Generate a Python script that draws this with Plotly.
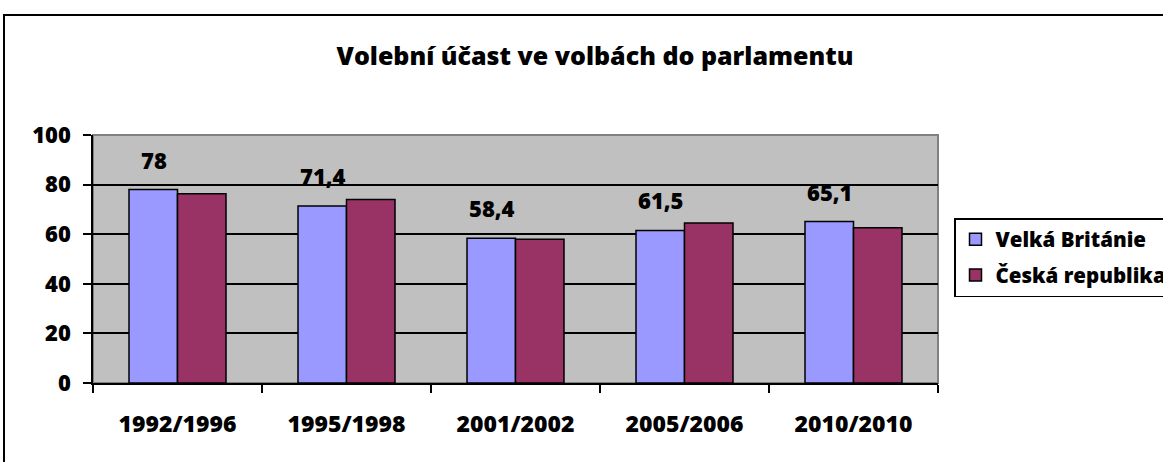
import plotly.graph_objects as go

categories = ["1992/1996", "1995/1998", "2001/2002", "2005/2006", "2010/2010"]
uk_values = [78, 71.4, 58.4, 61.5, 65.1]
cz_values = [76.3, 74.0, 58.0, 64.5, 62.6]
series_names = ["Velká Británie", "Česká republika"]
y_ticks = [0, 20, 40, 60, 80, 100]
title_text = "Volební účast ve volbách do parlamentu"

FONT = "Open Sans"
WT = 800
W, H = 1163, 462
L, R, T, B = 93, 225, 135, 79
pw = W - L - R
ph = H - T - B

fig = go.Figure()
fig.add_trace(go.Bar(x=categories, y=uk_values, name=series_names[0],
                     marker=dict(color="#9999FF", line=dict(color="black", width=1.5)),
                     legendgroup="a"))
fig.add_trace(go.Bar(x=categories, y=cz_values, name=series_names[1],
                     marker=dict(color="#993366", line=dict(color="black", width=1.5)),
                     legendgroup="b"))

for c, v in zip(categories, uk_values):
    fig.add_annotation(x=c, y=v, xref="x", yref="y", text=f"{v:g}".replace(".", ","),
                       showarrow=False, xshift=-24, yshift=30,
                       font=dict(family=FONT, size=22, color="black", weight=WT))

def px(xp):
    return (xp - L) / pw
def py(yp):
    return (H - B - yp) / ph

# outer chart border
fig.add_shape(type="rect", xref="paper", yref="paper",
              x0=px(4), x1=px(1175), y0=py(15), y1=py(475),
              line=dict(color="black", width=2), layer="below")
# plot area border
fig.add_shape(type="rect", xref="paper", yref="paper", x0=0, x1=1, y0=0, y1=1,
              line=dict(color="#808080", width=2), layer="below")

fig.update_layout(
    width=W, height=H,
    margin=dict(l=L, r=R, t=T, b=B, autoexpand=False),
    paper_bgcolor="white", plot_bgcolor="#C0C0C0",
    title=dict(text=title_text, x=595 / W, xanchor="center", y=1 - 56 / H, yanchor="middle",
               font=dict(family=FONT, size=25, color="black", weight=WT)),
    barmode="group", bargap=0.426, bargroupgap=0,
    showlegend=True,
    legend=dict(x=px(954), xanchor="left", y=py(218), yanchor="top",
                bordercolor="black", borderwidth=1.5, bgcolor="white",
                font=dict(family=FONT, size=20.5, color="black", weight=WT),
                traceorder="grouped", tracegroupgap=6, itemwidth=30),
    font=dict(family=FONT, color="black"),
)
fig.update_xaxes(showline=True, linecolor="black", linewidth=1.5, ticks="outside",
                 tickson="boundaries", ticklen=8, tickcolor="black", tickwidth=1.5,
                 ticklabelstandoff=20,
                 tickfont=dict(family=FONT, size=23, color="black", weight=WT))
fig.update_yaxes(range=[0, 100], tickvals=y_ticks, showline=True, linecolor="black", linewidth=1.5,
                 ticks="outside", ticklen=8, tickcolor="black", tickwidth=1.5,
                 ticklabelstandoff=8,
                 showgrid=True, gridcolor="black", gridwidth=1.5, zeroline=False,
                 tickfont=dict(family=FONT, size=22, color="black", weight=WT))

fig.write_html("out.html", config={"displayModeBar": False},
               post_script="document.body.style.margin='0';")
